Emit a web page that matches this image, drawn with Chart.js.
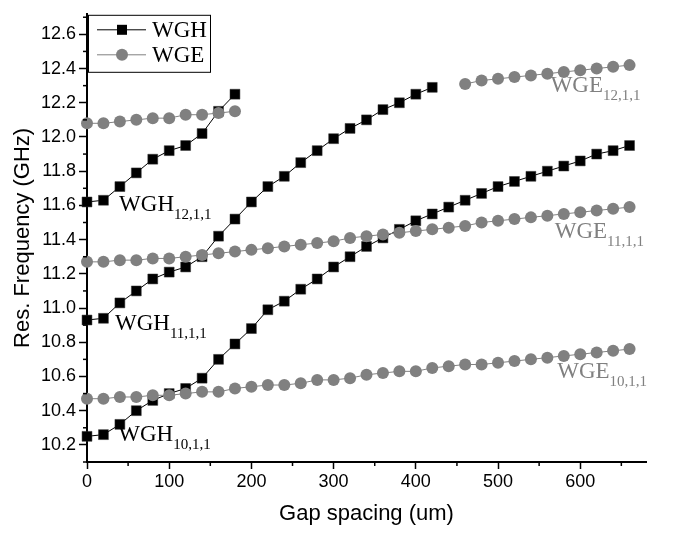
<!DOCTYPE html>
<html>
<head>
<meta charset="utf-8">
<script src="https://cdn.jsdelivr.net/npm/chart.js@4.4.0/dist/chart.umd.min.js"></script>
<style>
  html, body { margin: 0; padding: 0; background: #fff; }
  #wrap { width: 673px; height: 535px; }
</style>
</head>
<body>
<div id="wrap"><canvas id="resChart"></canvas></div>
<script>
// gap spacing (um)
const gapFull = [0, 20, 40, 60, 80, 100, 120, 140, 160, 180, 200, 220, 240, 260, 280, 300, 320, 340,
  360, 380, 400, 420, 440, 460, 480, 500, 520, 540, 560, 580, 600, 620, 640, 660];
const gapMid = [0, 20, 40, 60, 80, 100, 120, 140, 160, 180, 200, 220, 240, 260, 280, 300, 320, 340,
  360, 380, 400, 420];
const gapShort = [0, 20, 40, 60, 80, 100, 120, 140, 160, 180];

// resonant frequency (GHz)
const wgh10 = [10.25, 10.26, 10.32, 10.40, 10.46, 10.50, 10.53, 10.59, 10.70, 10.79, 10.88, 10.99,
  11.04, 11.11, 11.17, 11.24, 11.30, 11.36, 11.41, 11.46, 11.51, 11.55, 11.59, 11.63, 11.67, 11.71,
  11.74, 11.77, 11.80, 11.83, 11.86, 11.90, 11.92, 11.95];
const wgh11 = [10.93, 10.94, 11.03, 11.10, 11.17, 11.21, 11.24, 11.30, 11.42, 11.52, 11.62, 11.71,
  11.77, 11.85, 11.92, 11.99, 12.05, 12.10, 12.16, 12.20, 12.25, 12.29];
const wgh12 = [11.62, 11.63, 11.71, 11.79, 11.87, 11.92, 11.95, 12.02, 12.15, 12.25];
const wge10 = [10.47, 10.47, 10.48, 10.48, 10.49, 10.49, 10.50, 10.51, 10.51, 10.53, 10.54, 10.55,
  10.55, 10.56, 10.58, 10.58, 10.59, 10.61, 10.62, 10.63, 10.63, 10.65, 10.66, 10.67, 10.67, 10.68,
  10.69, 10.70, 10.71, 10.72, 10.73, 10.74, 10.75, 10.76];
const wge11 = [11.27, 11.27, 11.28, 11.28, 11.29, 11.29, 11.30, 11.31, 11.32, 11.33, 11.34, 11.35,
  11.36, 11.37, 11.38, 11.39, 11.41, 11.42, 11.43, 11.44, 11.45, 11.46, 11.47, 11.48, 11.50, 11.51,
  11.52, 11.53, 11.54, 11.55, 11.56, 11.57, 11.58, 11.59];
const wge12 = [12.08, 12.08, 12.09, 12.10, 12.11, 12.11, 12.13, 12.13, 12.14, 12.15,
  null, null, null, null, null, null, null, null, null, null, null, null, null,
  12.31, 12.33, 12.34, 12.35, 12.36, 12.37, 12.38, 12.39, 12.40, 12.41, 12.42];

// axis ticks
const xMajorTicks = [0, 100, 200, 300, 400, 500, 600];
const xMinorTicks = [50, 150, 250, 350, 450, 550, 650];
const yMajorTicks = [10.2, 10.4, 10.6, 10.8, 11.0, 11.2, 11.4, 11.6, 11.8, 12.0, 12.2, 12.4, 12.6];
const yMinorTicks = [10.1, 10.3, 10.5, 10.7, 10.9, 11.1, 11.3, 11.5, 11.7, 11.9, 12.1, 12.3, 12.5, 12.7];

// mode labels: name, subscript, anchor (gap, GHz at baseline)
const modeLabels = [
  { name: "WGH", sub: "12,1,1", x: 39, y: 11.57, color: "#000" },
  { name: "WGH", sub: "11,1,1", x: 34, y: 10.87, color: "#000" },
  { name: "WGH", sub: "10,1,1", x: 38, y: 10.225, color: "#000" },
  { name: "WGE", sub: "12,1,1", x: 564, y: 12.26, color: "#808080" },
  { name: "WGE", sub: "11,1,1", x: 569, y: 11.41, color: "#808080" },
  { name: "WGE", sub: "10,1,1", x: 572, y: 10.59, color: "#808080" },
];

const SANS = "'Liberation Sans', Arial, sans-serif";
const SERIF = "'Liberation Serif', 'Times New Roman', serif";

function toPoints(xs, ys) {
  return xs.map((x, i) => ({ x: x, y: ys[i] }));
}

function whDataset(label, xs, ys) {
  return {
    label: label,
    data: toPoints(xs, ys),
    borderColor: "#000",
    backgroundColor: "#000",
    borderWidth: 1,
    pointStyle: "rect",
    pointRadius: 7,
    pointBorderColor: "#333",
    pointBorderWidth: 0.5,
    order: 2,
  };
}

function weDataset(label, xs, ys) {
  return {
    label: label,
    data: toPoints(xs, ys),
    borderColor: "#808080",
    backgroundColor: "#808080",
    borderWidth: 1,
    pointStyle: "circle",
    pointRadius: 6,
    pointBorderWidth: 0,
    order: 1,
  };
}

// minor ticks, legend box and mode labels
const decorations = {
  id: "decorations",
  afterDraw(chart) {
    const ctx = chart.ctx;
    const xs = chart.scales.x;
    const ys = chart.scales.y;
    const ca = chart.chartArea;
    ctx.save();

    ctx.strokeStyle = "#000";
    ctx.lineWidth = 1.5;
    xMinorTicks.forEach((v) => {
      const px = xs.getPixelForValue(v);
      ctx.beginPath();
      ctx.moveTo(px, ca.bottom);
      ctx.lineTo(px, ca.bottom + 4);
      ctx.stroke();
    });
    yMinorTicks.forEach((v) => {
      const py = ys.getPixelForValue(v);
      ctx.beginPath();
      ctx.moveTo(ca.left, py);
      ctx.lineTo(ca.left - 4, py);
      ctx.stroke();
    });

    // legend
    const bx = ca.left + 1;
    const by = ca.top + 1;
    ctx.fillStyle = "#fff";
    ctx.fillRect(bx, by, 122, 57);
    ctx.strokeStyle = "#000";
    ctx.lineWidth = 1;
    ctx.strokeRect(bx + 0.5, by + 0.5, 122, 57);
    const rows = [chart.data.datasets[0], chart.data.datasets[3]];
    rows.forEach((ds, i) => {
      const cy = by + 15 + i * 25;
      ctx.strokeStyle = ds.borderColor;
      ctx.lineWidth = 1;
      ctx.beginPath();
      ctx.moveTo(bx + 9, cy);
      ctx.lineTo(bx + 58, cy);
      ctx.stroke();
      ctx.fillStyle = ds.backgroundColor;
      if (ds.pointStyle === "rect") {
        ctx.fillRect(bx + 34 - 5, cy - 5, 10, 10);
      } else {
        ctx.beginPath();
        ctx.arc(bx + 34, cy, 6, 0, Math.PI * 2);
        ctx.fill();
      }
      ctx.fillStyle = "#000";
      ctx.font = "23px " + SERIF;
      ctx.textBaseline = "middle";
      ctx.textAlign = "left";
      ctx.fillText(ds.label, bx + 64, cy + 1);
    });

    // WGH / WGE mode names with subscripts
    modeLabels.forEach((m) => {
      const px = xs.getPixelForValue(m.x);
      const py = ys.getPixelForValue(m.y);
      ctx.fillStyle = m.color;
      ctx.textBaseline = "alphabetic";
      ctx.font = "23px " + SERIF;
      ctx.fillText(m.name, px, py);
      const w = ctx.measureText(m.name).width;
      ctx.font = "15px " + SERIF;
      ctx.fillText(m.sub, px + w, py + 8);
    });

    ctx.restore();
  },
};

const resChart = new Chart(document.getElementById("resChart"), {
  type: "line",
  data: {
    datasets: [
      whDataset("WGH", gapShort, wgh12),
      whDataset("WGH", gapMid, wgh11),
      whDataset("WGH", gapFull, wgh10),
      weDataset("WGE", gapFull, wge12),
      weDataset("WGE", gapFull, wge11),
      weDataset("WGE", gapFull, wge10),
    ],
  },
  options: {
    responsive: true,
    maintainAspectRatio: false,
    animation: false,
    spanGaps: false,
    layout: { padding: { top: 2, right: 27, bottom: 0, left: 0 } },
    plugins: {
      legend: { display: false },
      tooltip: { enabled: false },
    },
    elements: { line: { tension: 0 } },
    datasets: { line: { clip: false } },
    scales: {
      x: {
        type: "linear",
        min: 0,
        max: 680,
        afterBuildTicks: (s) => {
          s.ticks = xMajorTicks.map((v) => ({ value: v }));
        },
        afterFit: (s) => {
          s.height = 73;
        },
        ticks: {
          color: "#000",
          font: { family: SANS, size: 18 },
          padding: 2,
          maxRotation: 0,
          autoSkip: false,
        },
        grid: {
          drawOnChartArea: false,
          tickLength: 7,
          tickColor: "#000",
          tickWidth: 1.5,
        },
        border: { color: "#000", width: 2 },
        title: {
          display: true,
          text: "Gap spacing (um)",
          color: "#000",
          font: { family: SANS, size: 22 },
          padding: { top: 0, bottom: 8 },
        },
      },
      y: {
        type: "linear",
        min: 10.1,
        max: 12.72,
        afterBuildTicks: (s) => {
          s.ticks = yMajorTicks.map((v) => ({ value: v }));
        },
        afterFit: (s) => {
          s.width = 87;
        },
        ticks: {
          color: "#000",
          font: { family: SANS, size: 18 },
          padding: 3,
          callback: (v) => Number(v).toFixed(1),
        },
        grid: {
          drawOnChartArea: false,
          tickLength: 8,
          tickColor: "#000",
          tickWidth: 1.5,
        },
        border: { color: "#000", width: 2 },
        title: {
          display: true,
          text: "Res. Frequency (GHz)",
          color: "#000",
          font: { family: SANS, size: 22 },
          padding: { top: 10, bottom: 0 },
        },
      },
    },
  },
  plugins: [decorations],
});
</script>
</body>
</html>
